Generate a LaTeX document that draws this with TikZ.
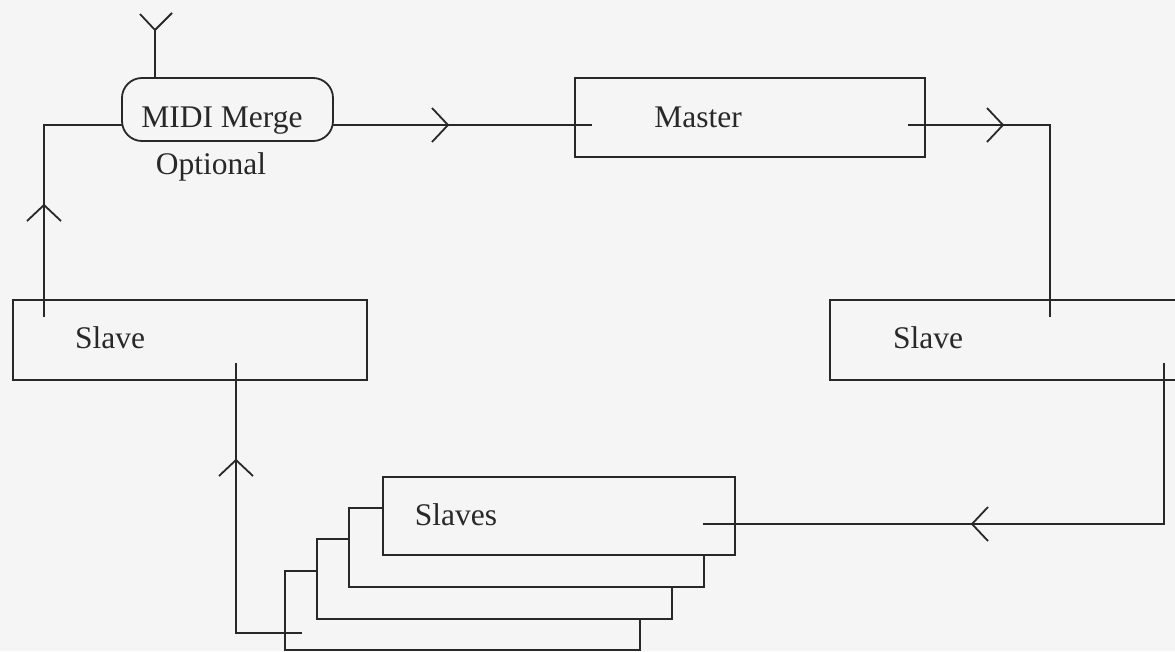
\documentclass[tikz,border=0pt]{standalone}
\usepackage{fontspec}
\setmainfont{Liberation Serif}
\definecolor{ink}{RGB}{40,40,40}
\definecolor{paper}{RGB}{245,245,245}
\begin{document}
\begin{tikzpicture}[x=1pt,y=-1pt,
  box/.style={draw=ink, fill=paper, inner sep=0pt, line width=1.8pt},
  lbl/.style={anchor=base, inner sep=0pt, font=\fontsize{31.5}{37}\selectfont, text=ink},
  wire/.style={draw=ink, line width=1.8pt},
  chev/.pic={\draw[wire] (-16,-17) -- (0,0) -- (-16,17);}]
\fill[paper] (0,0) rectangle (1175,651);
\useasboundingbox (0,0) rectangle (1175,651);

% boxes
\node[box, rounded corners=20pt, minimum width=211pt, minimum height=63pt] (mm) at (227.5,109.5) {};
\node[box, minimum width=350pt, minimum height=79pt] (master) at (750,117.5) {};
\node[box, minimum width=354pt, minimum height=80pt] (slaveL) at (190,340) {};
\node[box, minimum width=350pt, minimum height=80pt] (slaveR) at (1005,340) {};
\node[box, minimum width=355pt, minimum height=79pt] (s4) at (462.5,610.5) {};
\node[box, minimum width=355pt, minimum height=80pt] (s3) at (494.5,579) {};
\node[box, minimum width=355pt, minimum height=79pt] (s2) at (526.5,547.5) {};
\node[box, minimum width=352pt, minimum height=78pt] (s1) at (559,516) {};

% labels
\node[lbl] (tmm) at (222,127) {MIDI Merge};
\node[lbl] (topt) at (211,174) {Optional};
\node[lbl] (tmaster) at (698,127) {Master};
\node[lbl] (tsl) at (110,348) {Slave};
\node[lbl] (tsr) at (928,348) {Slave};
\node[lbl] (tss) at (456,525) {Slaves};

% connector end points
\coordinate (ant) at (155,30);
\coordinate (antL) at (140,14);
\coordinate (antR) at (172,13);
\coordinate (mmL) at (122,125);
\coordinate (slIn) at (44,317);
\coordinate (mmR) at (333,125);
\coordinate (mIn) at (592,125);
\coordinate (mOut) at (908,125);
\coordinate (srIn) at (1050,317);
\coordinate (srOut) at (1164,363);
\coordinate (ssIn) at (703,524);
\coordinate (s4Out) at (302,633);
\coordinate (slIn2) at (236,363);

% connectors
\draw[wire] (mm.north -| ant) -- (ant);
\draw[wire] (antL) -- (ant) -- (antR);
\draw[wire] (mmL) -| (slIn);
\draw[wire] (mmR) -- (mIn);
\draw[wire] (mOut) -| (srIn);
\draw[wire] (srOut) |- (ssIn);
\draw[wire] (s4Out) -| (slIn2);

% arrow chevrons
\pic[rotate=90] at (44,205) {chev};
\pic at (448,125) {chev};
\pic at (1003,125) {chev};
\pic[rotate=180] at (972,524) {chev};
\pic[rotate=90] at (236,460) {chev};
\end{tikzpicture}
\end{document}
